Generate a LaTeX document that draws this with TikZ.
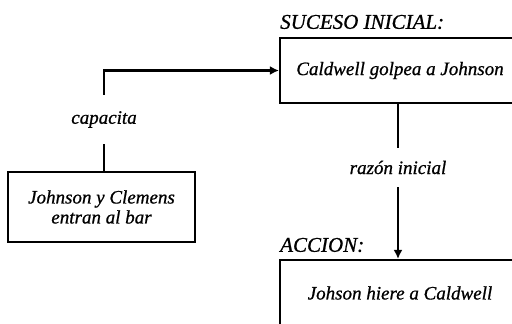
\documentclass[tikz,border=0pt]{standalone}
\usepackage{fontspec}
\setmainfont{Liberation Serif}[ItalicFeatures={FakeBold=0.8}]
\usetikzlibrary{arrows.meta}
\begin{document}
\begin{tikzpicture}[x=1pt,y=-1pt,
  every node/.style={font=\fontsize{19}{20}\selectfont\itshape},
  box/.style={draw, line width=2.2pt, inner sep=0pt, align=center},
  lbl/.style={inner sep=0pt, anchor=west, font=\fontsize{21}{21}\selectfont\itshape},
  conn/.style={line width=2.2pt},
  tag/.style={inner sep=0pt}]
\useasboundingbox (0,0) rectangle (512,324);
\clip (0,0) rectangle (512,324);
\node[box, minimum width=240pt, minimum height=65pt] (top) at (400,70.5) {Caldwell golpea a Johnson};
\node[box, minimum width=240pt, minimum height=66pt] (bot) at (400,293) {Johson hiere a Caldwell};
\node[box, minimum width=187pt, minimum height=70pt] (left) at (101.5,207) {Johnson y Clemens\\entran al bar};
\node[lbl] (suc) at (280,22) {SUCESO INICIAL:};
\node[lbl] (acc) at (280,245) {ACCION:};
\node[tag, minimum height=49pt] (cap) at (104,119.5) {capacita};
\node[tag, minimum height=39pt] (raz) at (398,167.5) {razón inicial};
\draw[conn] (left.north -| cap) -- (cap.south);
\draw[conn, -{Latex[length=9pt,width=9pt]}] (cap.north) |- (top.west);
\draw[conn] (top.south -| raz) -- (raz.north);
\draw[conn, -{Latex[length=9pt,width=9pt]}] (raz.south) -- (bot.north -| raz);
\end{tikzpicture}
\end{document}
